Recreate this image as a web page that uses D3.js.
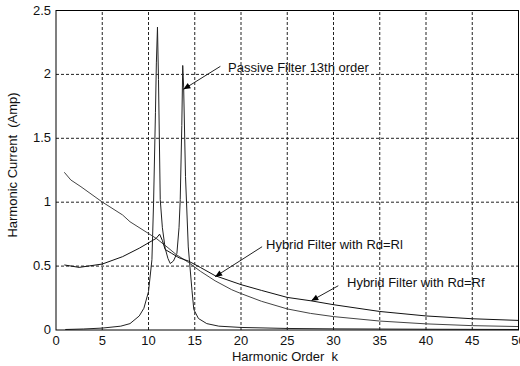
<!DOCTYPE html>
<html>
<head>
<meta charset="utf-8">
<script src="https://cdn.jsdelivr.net/npm/d3@7"></script>
<style>
  body { margin: 0; background: #fff; }
  svg { display: block; }
  text { font-family: "Liberation Sans", Arial, sans-serif; fill: #111; }
</style>
</head>
<body>
<svg id="chart" width="520" height="366"></svg>
<script>
// harmonic order k and current (Amp)
var passiveK   = [1, 3, 5, 7, 8, 9, 9.5, 10, 10.37, 10.55, 10.75, 10.85, 10.97, 11.08, 11.27, 11.5, 11.8, 12.1, 12.35, 12.7, 13.07, 13.3, 13.43, 13.6, 13.7, 13.8, 14.0, 14.3, 14.7, 14.9, 15.4, 16.3, 17.6, 20, 25, 30, 40, 50];
var passiveAmp = [0.004, 0.008, 0.015, 0.03, 0.05, 0.11, 0.17, 0.30, 0.55, 1.0, 1.7, 2.09, 2.37, 1.96, 1.02, 0.8, 0.64, 0.56, 0.52, 0.54, 0.6, 0.8, 1.02, 1.6, 2.07, 1.9, 1.2, 0.65, 0.31, 0.16, 0.09, 0.05, 0.03, 0.02, 0.012, 0.009, 0.006, 0.004];

var rfK   = [0.9, 2.5, 5, 7.2, 9, 10.83, 11.2, 11.5, 11.8, 12.5, 13.3, 14.3, 15.6, 17.2, 20, 22.2, 25, 27.6, 30, 35, 40, 45, 50];
var rfAmp = [0.509, 0.49, 0.516, 0.574, 0.64, 0.717, 0.75, 0.70, 0.63, 0.60, 0.565, 0.54, 0.49, 0.425, 0.355, 0.31, 0.255, 0.228, 0.198, 0.145, 0.11, 0.088, 0.075];

var rlK   = [0.9, 1.6, 2.7, 4.95, 7.2, 8, 10.83, 12, 13, 14.3, 15.6, 17.2, 19, 20, 22.2, 25, 27.5, 30, 35, 40, 45, 50];
var rlAmp = [1.234, 1.174, 1.121, 1.004, 0.9, 0.847, 0.717, 0.65, 0.59, 0.53, 0.46, 0.385, 0.315, 0.285, 0.225, 0.165, 0.13, 0.105, 0.07, 0.048, 0.034, 0.027];

var xTicks = [0, 5, 10, 15, 20, 25, 30, 35, 40, 45, 50];
var yTicks = [0, 0.5, 1, 1.5, 2, 2.5];

var svg = d3.select('#chart');
var x = d3.scaleLinear().domain([0, 50]).range([56, 518.5]);
var y = d3.scaleLinear().domain([0, 2.5]).range([330, 10.5]);

// grid
svg.append('g').selectAll('line').data(xTicks.slice(1, -1)).join('line')
  .attr('x1', d => x(d)).attr('x2', d => x(d))
  .attr('y1', y(0)).attr('y2', y(2.5))
  .attr('stroke', '#222').attr('stroke-dasharray', '3,2');
svg.append('g').selectAll('line').data(yTicks.slice(1, -1)).join('line')
  .attr('y1', d => y(d)).attr('y2', d => y(d))
  .attr('x1', x(0)).attr('x2', x(50))
  .attr('stroke', '#222').attr('stroke-dasharray', '3,2');

// curves
var line = d3.line().x(d => x(d[0])).y(d => y(d[1]));
function series(ks, amps) { return ks.map((k, i) => [k, amps[i]]); }
[[passiveK, passiveAmp, '#222'], [rlK, rlAmp, '#444'], [rfK, rfAmp, '#111']].forEach(function (s) {
  svg.append('path').datum(series(s[0], s[1]))
    .attr('d', line).attr('fill', 'none')
    .attr('stroke', s[2]).attr('stroke-width', 1);
});

// frame
svg.append('rect')
  .attr('x', x(0)).attr('y', y(2.5))
  .attr('width', x(50) - x(0)).attr('height', y(0) - y(2.5))
  .attr('fill', 'none').attr('stroke', '#000');

// tick labels
svg.append('g').selectAll('text').data(xTicks).join('text')
  .attr('x', d => x(d)).attr('y', 345)
  .attr('text-anchor', 'middle').attr('font-size', 13)
  .text(d => d);
svg.append('g').selectAll('text').data(yTicks).join('text')
  .attr('x', 51).attr('y', d => y(d) + 4)
  .attr('text-anchor', 'end').attr('font-size', 13)
  .text(d => d);

svg.append('text').attr('x', 285).attr('y', 361)
  .attr('text-anchor', 'middle').attr('font-size', 13)
  .attr('xml:space', 'preserve').text('Harmonic Order  k');
svg.append('text').attr('transform', 'translate(17,165) rotate(-90)')
  .attr('text-anchor', 'middle').attr('font-size', 13)
  .attr('xml:space', 'preserve').text('Harmonic Current  (Amp)');

// annotations
var notes = [
  {text: 'Passive Filter 13th order', k: 13.77, v: 1.883, dx: 37, dy: -23, tx: 228, ty: 72},
  {text: 'Hybrid Filter with Rd=Rl', k: 17.2, v: 0.417, dx: 47, dy: -30, tx: 266, ty: 249},
  {text: 'Hybrid Filter with Rd=Rf', k: 27.6, v: 0.229, dx: 27, dy: -15, tx: 347, ty: 287}
];
notes.forEach(function (n) {
  var px = x(n.k), py = y(n.v);
  var ang = Math.atan2(n.dy, n.dx);
  var hl = 7, hw = 3;
  svg.append('line')
    .attr('x1', px + n.dx).attr('y1', py + n.dy)
    .attr('x2', px).attr('y2', py)
    .attr('stroke', '#222');
  var bx = px + hl * Math.cos(ang), by = py + hl * Math.sin(ang);
  var nx = -Math.sin(ang) * hw, ny = Math.cos(ang) * hw;
  svg.append('path')
    .attr('d', 'M' + px + ',' + py + 'L' + (bx + nx) + ',' + (by + ny) + 'L' + (bx - nx) + ',' + (by - ny) + 'Z')
    .attr('fill', '#000');
  svg.append('text').attr('x', n.tx).attr('y', n.ty)
    .attr('font-size', 13).text(n.text);
});
</script>
</body>
</html>
